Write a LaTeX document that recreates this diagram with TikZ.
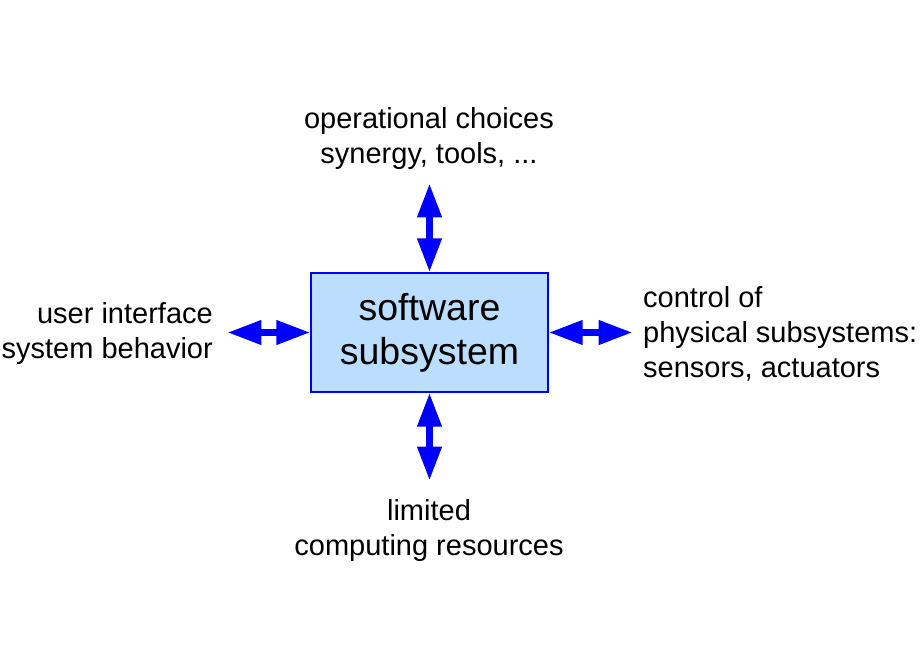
\documentclass[tikz,border=0pt]{standalone}
\usepackage{fontspec}
\setmainfont{Liberation Sans}
\usetikzlibrary{arrows.meta,positioning}
\definecolor{boxfill}{RGB}{187,222,255}
\definecolor{arrowblue}{RGB}{0,0,255}
\begin{document}
\begin{tikzpicture}[x=1pt,y=-1pt,
  biarrow/.style={draw=arrowblue,line width=7pt,{Triangle[length=34pt,width=23pt]}-{Triangle[length=34pt,width=23pt]}},
  label/.style={inner sep=0pt,font=\fontsize{29}{35}\selectfont}]
\useasboundingbox (0,0) rectangle (920,660);
\node [draw=arrowblue,line width=1.3pt,fill=boxfill,minimum width=237pt,minimum height=119pt,
  align=center,font=\fontsize{37.5}{44}\selectfont] (sw) at (429.5,332.5) {software\\subsystem};
\node [label,align=center] (ops) at (429,138.5) {operational choices\\synergy, tools, ...};
\node [label,align=center] (res) at (429,530) {limited\\computing resources};
\node [label,align=right,anchor=east] (ui) at (213,334) {user interface\\system behavior};
\node [label,align=left,anchor=west] (ctl) at (643,334) {control of\\physical subsystems:\\sensors, actuators};
\coordinate [above=89pt of sw.north] (opsend);
\coordinate [below=88pt of sw.south] (resend);
\coordinate [left=83pt of sw.west] (uiend);
\coordinate [right=84pt of sw.east] (ctlend);
\draw [biarrow] (sw.north) -- (opsend);
\draw [biarrow] (sw.south) -- (resend);
\draw [biarrow] (sw.west) -- (uiend);
\draw [biarrow] (sw.east) -- (ctlend);
\end{tikzpicture}
\end{document}
